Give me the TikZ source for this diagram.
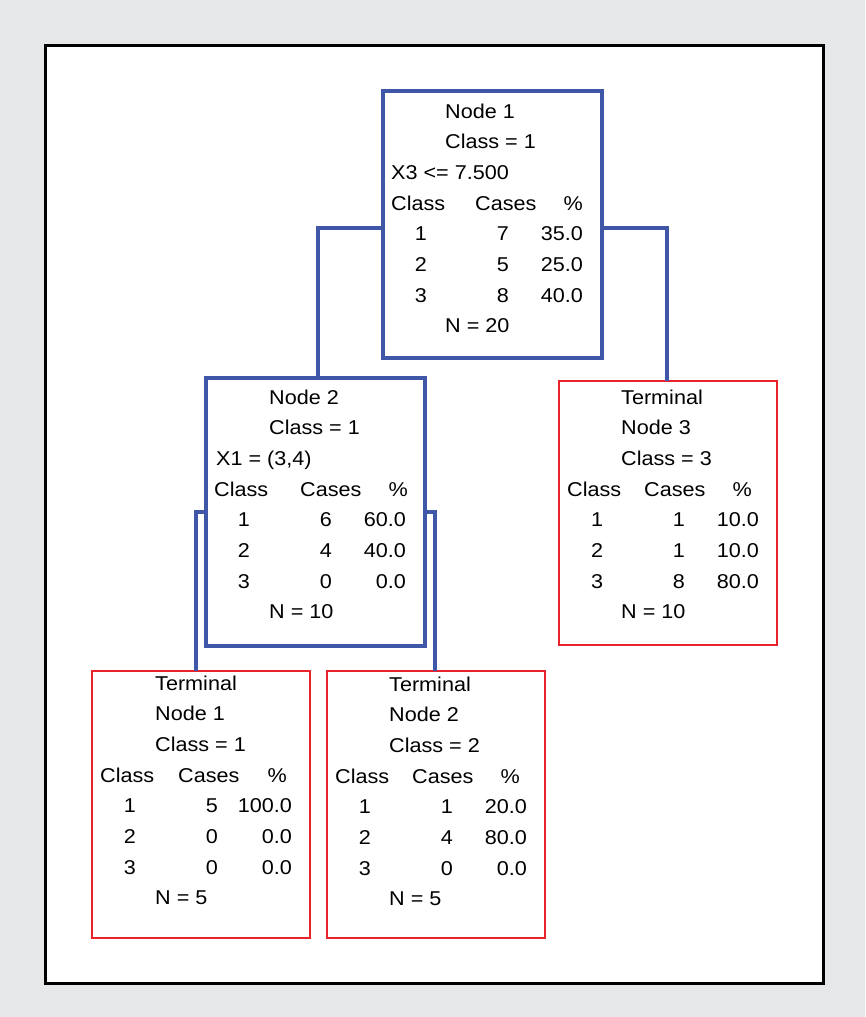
\documentclass[tikz,border=0pt]{standalone}
\usepackage{fontspec}
\setmainfont{Liberation Sans}[FakeStretch=1.08]
\usepackage{tikz}

\definecolor{splitblue}{RGB}{64,86,166}
\definecolor{leafred}{RGB}{232,35,43}
\definecolor{pagegray}{RGB}{230,231,232}

% header line and the three class rows of a box, #1 = baseline of first line
\newcommand{\casetable}[4]{%
  \node[cell] at (8,#1+92.1) {Class};
  \node[cell] at (#2,#1+92.1) {Cases};
  \node[cell,anchor=base east] at (#3,#1+92.1) {\%};
  \foreach \cl/\cs/\pc [count=\i] in {#4} {
    \node[cell,anchor=base] at (38,#1+92.1+\i*30.7) {\cl};
    \node[cell,anchor=base east] at (126,#1+92.1+\i*30.7) {\cs};
    \node[cell,anchor=base east] at (200,#1+92.1+\i*30.7) {\pc};
  }
}

\begin{document}
\begin{tikzpicture}[x=1pt,y=-1pt]
            \tikzstyle{split node}=[draw=splitblue,line width=4pt,anchor=north west,inner sep=0pt,outer sep=0pt,minimum width=219pt]
            \tikzstyle{leaf node}=[draw=leafred,line width=2.5pt,anchor=north west,inner sep=0pt,outer sep=0pt,minimum width=218pt]
            \tikzstyle{cell}=[anchor=base west,inner sep=0pt,font=\fontsize{20}{24}\selectfont]
            \tikzstyle{link}=[draw=splitblue,line width=4pt]

            \useasboundingbox (0,0) rectangle (865,1017);
            \fill[pagegray] (0,0) rectangle (865,1017);
            \draw[line width=3pt,fill=white] (45,45) rectangle (823,983);

            % root split
            \begin{scope}[shift={(383,91)}]
              \node[split node,minimum height=267pt] (N1) at (0,0) {};
              \node[cell] at (62,27) {Node 1};
              \node[cell] at (62,57.7) {Class = 1};
              \node[cell] at (8,88.4) {X3 <= 7.500};
              \casetable{27}{92}{200}{1/7/35.0, 2/5/25.0, 3/8/40.0}
              \node[cell] at (62,241.9) {N = 20};
            \end{scope}

            % second split
            \begin{scope}[shift={(206,378)}]
              \node[split node,minimum height=268pt] (N2) at (0,0) {};
              \node[cell] at (63,26) {Node 2};
              \node[cell] at (63,56.7) {Class = 1};
              \node[cell] at (10,87.4) {X1 = (3,4)};
              \casetable{26}{94}{202}{1/6/60.0, 2/4/40.0, 3/0/0.0}
              \node[cell] at (63,240.9) {N = 10};
            \end{scope}

            % terminal nodes
            \begin{scope}[shift={(559,381)}]
              \node[leaf node,minimum height=264pt] (T3) at (0,0) {};
              \node[cell] at (62,23) {Terminal};
              \node[cell] at (62,53.7) {Node 3};
              \node[cell] at (62,84.4) {Class = 3};
              \casetable{23}{85}{193}{1/1/10.0, 2/1/10.0, 3/8/80.0}
              \node[cell] at (62,237.9) {N = 10};
            \end{scope}

            \begin{scope}[shift={(92,671)}]
              \node[leaf node,minimum height=267pt] (T1) at (0,0) {};
              \node[cell] at (63,19) {Terminal};
              \node[cell] at (63,49.7) {Node 1};
              \node[cell] at (63,80.4) {Class = 1};
              \casetable{19}{86}{195}{1/5/100.0, 2/0/0.0, 3/0/0.0}
              \node[cell] at (63,233.9) {N = 5};
            \end{scope}

            \begin{scope}[shift={(327,671)}]
              \node[leaf node,minimum height=267pt] (T2) at (0,0) {};
              \node[cell] at (62,20) {Terminal};
              \node[cell] at (62,50.7) {Node 2};
              \node[cell] at (62,81.4) {Class = 2};
              \casetable{20}{85}{193}{1/1/20.0, 2/4/80.0, 3/0/0.0}
              \node[cell] at (62,234.9) {N = 5};
            \end{scope}

            % branches
            \draw[link] ([yshift=-3.5pt]N1.west) -| ([xshift=2.5pt]N2.north);
            \draw[link] ([yshift=-3.5pt]N1.east) -| ([xshift=-1pt]T3.north);
            \draw[link] (N2.west) -| ([xshift=-5.5pt]T1.north);
            \draw[link] (N2.east) -| ([xshift=-1pt]T2.north);
        \end{tikzpicture}
\end{document}
